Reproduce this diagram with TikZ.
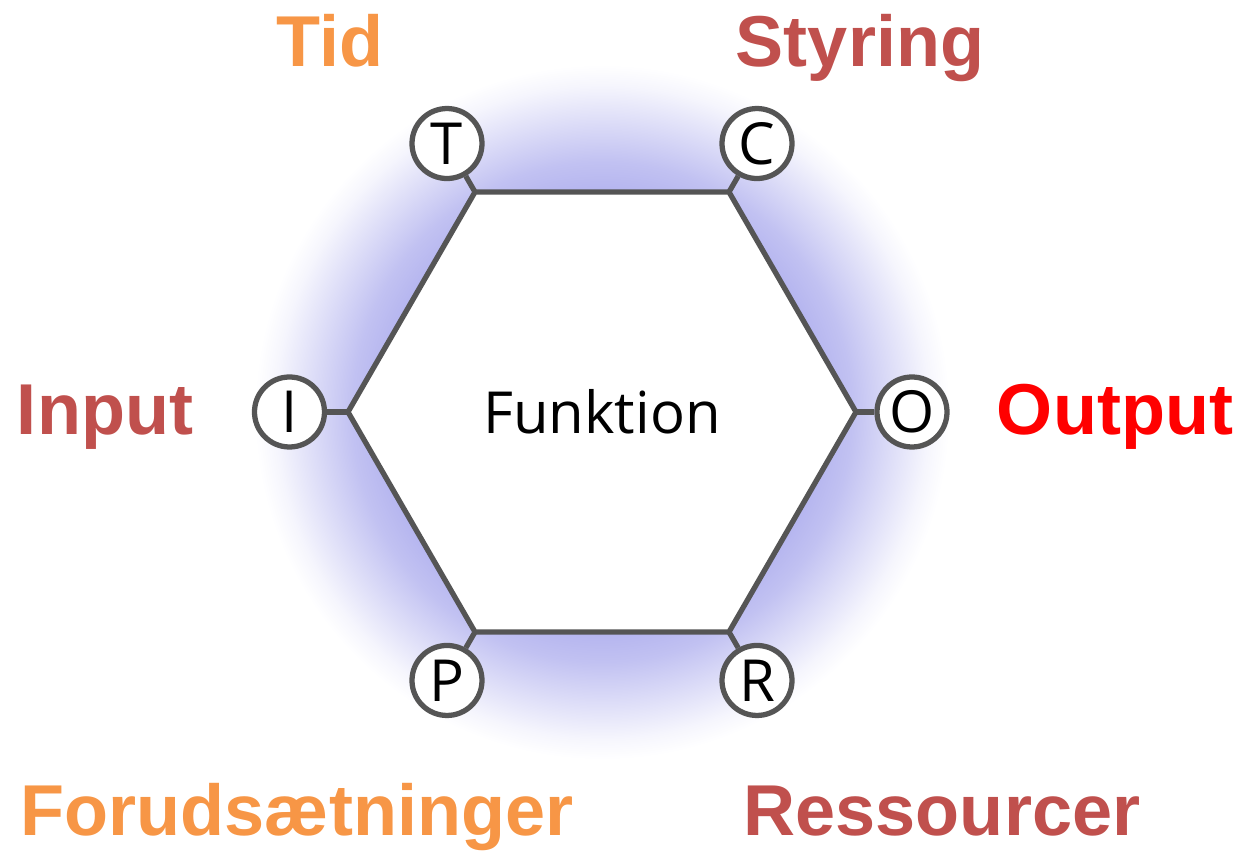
\documentclass[tikz,border=0pt]{standalone}
\usepackage{fontspec}
\setmainfont{Open Sans}
\newfontfamily\labelfont{Liberation Sans}
\usepackage{xcolor}
\usepackage{tikz}
\usetikzlibrary{shapes.geometric,positioning}
\definecolor{hexgray}{RGB}{85,85,85}
\definecolor{glowblue}{RGB}{176,176,238}
\definecolor{lblorange}{RGB}{247,150,70}
\definecolor{lblbrown}{RGB}{192,80,77}
\definecolor{lblred}{RGB}{255,0,0}
\pgfdeclareradialshading{glow}{\pgfpoint{0bp}{0bp}}{%
  color(0bp)=(glowblue); color(15bp)=(glowblue); color(18bp)=(glowblue!78!white);
  color(21bp)=(glowblue!42!white); color(23.5bp)=(glowblue!12!white); color(25bp)=(white); color(50bp)=(white)}

\begin{document}
\begin{tikzpicture}[
    hexa/.style={regular polygon, regular polygon sides=6, draw=hexgray, line width=3pt, fill=white, minimum size=10.16cm, inner sep=0pt, outer sep=0pt, font=\fontsize{33}{36}\selectfont},
    port/.style={circle, draw=hexgray, line width=3pt, fill=white, minimum size=1.4cm, inner sep=0pt, font=\fontsize{33}{34}\selectfont},
    stub/.style={hexgray, line width=3pt},
    tag/.style={anchor=base, font=\labelfont\bfseries\fontsize{41}{44}\selectfont}
]
\useasboundingbox (-12.04,-8.80) rectangle (12.82,8.24);

% Glow
\shade[shading=glow] (0,0) circle (6.95cm);

% Hexagon
\node[hexa] (fn) at (0,0) {Funktion};

% Ports
\node[port] (t) at (120:6.2) {T};
\node[port] (c) at (60:6.2) {C};
\node[port] (i) at (180:6.25) {I};
\node[port] (o) at (0:6.2) {O};
\node[port] (p) at (240:6.2) {P};
\node[port] (r) at (300:6.2) {R};

% Stubs
\draw[stub] (fn.corner 2) -- (t);
\draw[stub] (fn.corner 1) -- (c);
\draw[stub] (fn.corner 3) -- (i);
\draw[stub] (fn.corner 6) -- (o);
\draw[stub] (fn.corner 4) -- (p);
\draw[stub] (fn.corner 5) -- (r);

% Labels
\node[tag, text=lblorange] (tid) at (-5.44,6.9) {Tid};
\node[tag, text=lblbrown] (styring) at (5.16,6.9) {Styring};
\node[tag, text=lblbrown] (input) at (-9.94,-0.46) {Input};
\node[tag, text=lblred] (output) at (10.26,-0.46) {Output};
\node[tag, text=lblorange] (forud) at (-6.1,-8.46) {Forudsætninger};
\node[tag, text=lblbrown] (ress) at (6.8,-8.46) {Ressourcer};

\end{tikzpicture}
\end{document}
